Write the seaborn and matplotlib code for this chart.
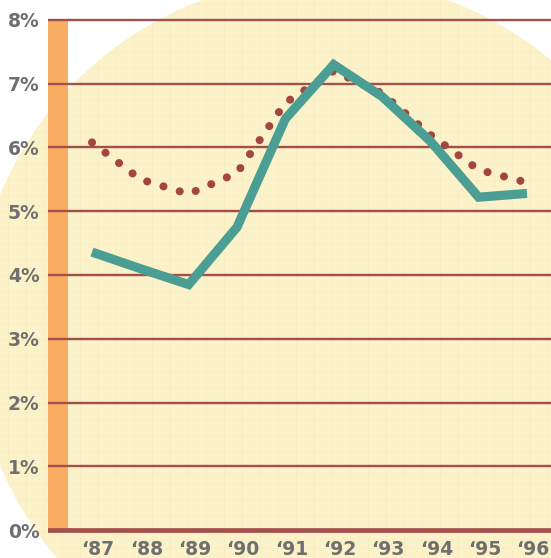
import matplotlib
matplotlib.use("Agg")
import matplotlib.pyplot as plt
import matplotlib.transforms as mtransforms
from matplotlib.patches import Circle
import numpy as np
import pandas as pd
import seaborn as sns

# Yearly rates (percent)
years = ["\u201887", "\u201888", "\u201889", "\u201890", "\u201891",
         "\u201892", "\u201893", "\u201894", "\u201895", "\u201896"]
solid_rate = [4.36, 4.10, 3.85, 4.75, 6.45, 7.30, 6.80, 6.10, 5.22, 5.28]
dotted_rate = [6.08, 5.50, 5.27, 5.60, 6.70, 7.20, 6.85, 6.20, 5.65, 5.45]
y_ticks = [0, 1, 2, 3, 4, 5, 6, 7, 8]
y_labels = [f"{v}%" for v in y_ticks]

sns.set_style("white")
plt.rcParams["font.family"] = ["DejaVu Sans"]

W, H = 551, 558
fig = plt.figure(figsize=(W / 100, H / 100), dpi=100)
fig.patch.set_facecolor("white")

# Pale yellow disc with faint graph-paper ruling behind the chart
bg = fig.add_axes([0, 0, 1, 1])
bg.set_xlim(0, W)
bg.set_ylim(H, 0)
bg.axis("off")
disc = Circle((325, 330), 352, facecolor="#fcf2c9", edgecolor="none", zorder=0)
bg.add_patch(disc)
for yy in np.arange(4, H, 16):
    ln = bg.axhline(yy, color="#f7eac0", lw=0.5, zorder=1)
    ln.set_clip_path(disc)
for xx in np.arange(8, W, 18):
    ln = bg.axvline(xx, color="#f7eac0", lw=0.5, zorder=1)
    ln.set_clip_path(disc)

# Main chart axes
px_per_year = 48.33
x0_px = 92
left_px, right_px = 48, W
top_px, bot_px = 13.6, 536.4
ax = fig.add_axes([left_px / W, (H - bot_px) / H,
                   (right_px - left_px) / W, (bot_px - top_px) / H])
ax.patch.set_alpha(0)
ax.set_xlim((left_px - x0_px) / px_per_year, (right_px - x0_px) / px_per_year)
ax.set_ylim(-0.1, 8.1)
for s in ax.spines.values():
    s.set_visible(False)

# Orange bar along the value axis
ax.fill_betweenx([0, 8], ax.get_xlim()[0], (68 - x0_px) / px_per_year,
                 color="#f8ad62", lw=0, zorder=1)

# Horizontal rules
grid_col = "#a2504b"
for v in y_ticks[1:]:
    ax.axhline(v, color=grid_col, lw=1.7, zorder=2)
ax.axhline(0, color=grid_col, lw=3.4, zorder=2)

df = pd.DataFrame({"idx": np.arange(len(years)),
                   "solid": solid_rate, "dotted": dotted_rate})

sns.lineplot(data=df, x="idx", y="dotted", ax=ax, color="#a3463f",
             lw=5.8, linestyle=(0, (0.01, 2.1)), dash_capstyle="round",
             zorder=3)
sns.lineplot(data=df, x="idx", y="solid", ax=ax, color="#4b9e93",
             lw=6.6, solid_joinstyle="miter", solid_capstyle="butt",
             zorder=4)

ax.set_xlabel("")
ax.set_ylabel("")
label_col = "#6f6f6f"
ax.set_yticks(y_ticks)
ax.set_yticklabels(y_labels, fontsize=13.5, fontweight="bold", color=label_col)
ax.set_xticks(np.arange(len(years)))
ax.set_xticklabels(years, fontsize=13.5, fontweight="bold", color=label_col)
ax.tick_params(axis="y", length=0, pad=6)
ax.tick_params(axis="x", length=0, pad=2.5)
shift = mtransforms.ScaledTranslation(6 / 100, 0, fig.dpi_scale_trans)
for lab in ax.get_xticklabels():
    lab.set_transform(lab.get_transform() + shift)

fig.savefig("out.png", dpi=100)
